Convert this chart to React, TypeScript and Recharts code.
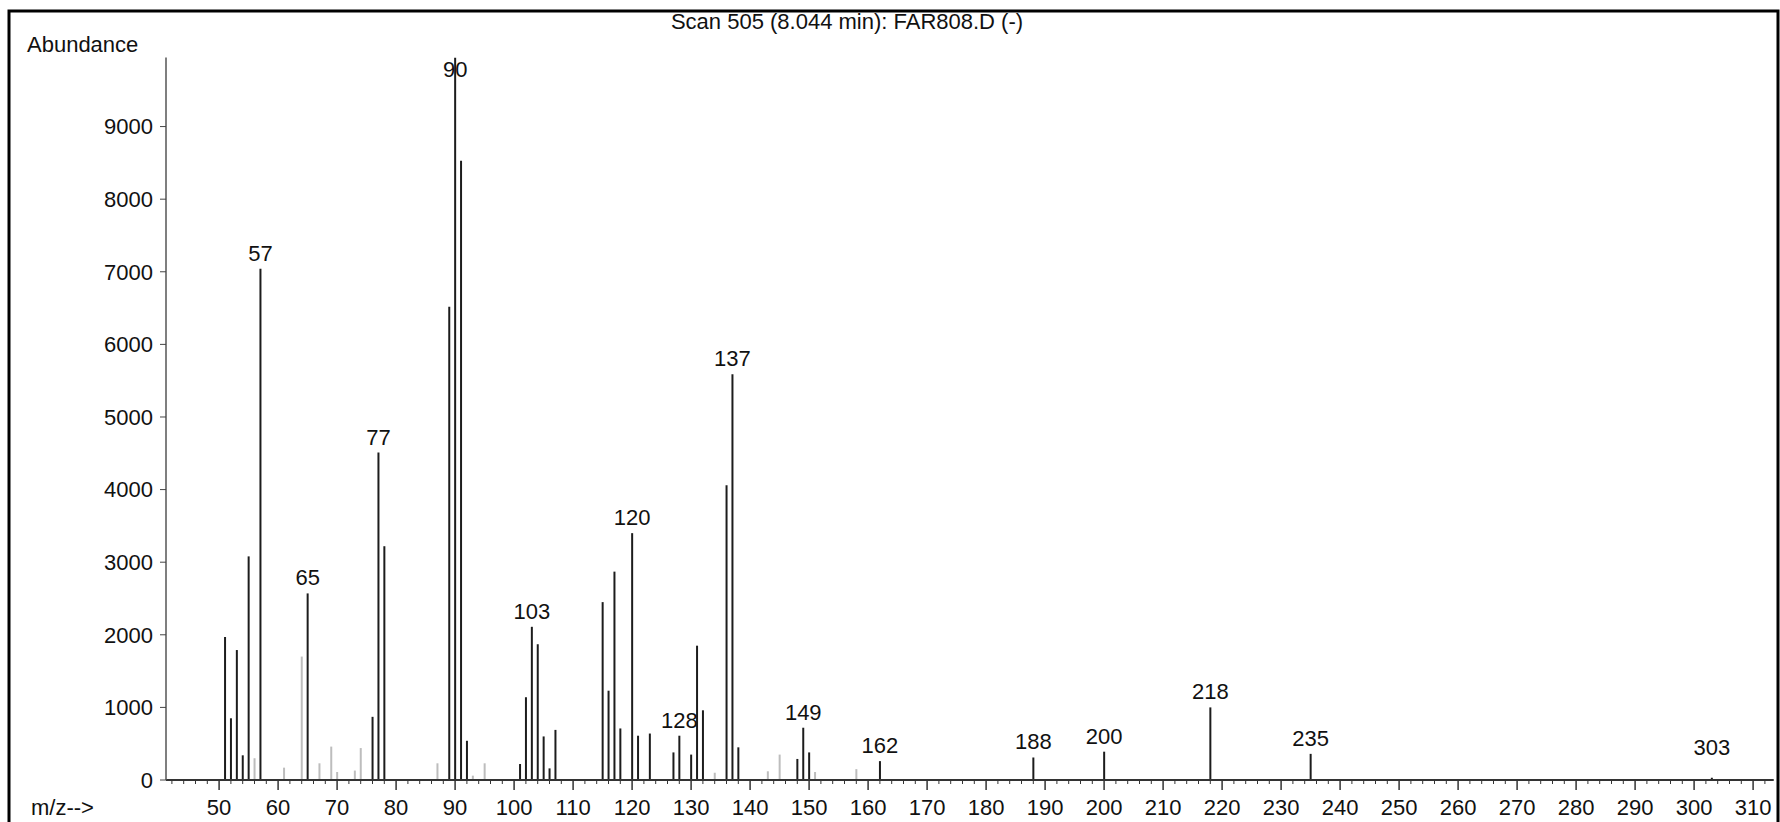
import React from 'react';
import { ComposedChart, Bar, XAxis, YAxis, LabelList } from 'recharts';

// Main (dark) peaks: m/z and abundance
const mzMain = [51, 52, 53, 54, 55, 57, 65, 76, 77, 78, 89, 90, 91, 92, 101, 102, 103, 104, 105, 106, 107, 115, 116, 117, 118, 120, 121, 123, 127, 128, 130, 131, 132, 136, 137, 138, 148, 149, 150, 162, 188, 200, 218, 235, 303];
const abundanceMain = [1970, 850, 1790, 340, 3080, 7040, 2570, 870, 4510, 3220, 6520, 9950, 8530, 540, 220, 1140, 2110, 1870, 600, 160, 690, 2450, 1230, 2870, 710, 3400, 610, 640, 380, 610, 350, 1850, 960, 4060, 5590, 450, 290, 720, 380, 260, 310, 390, 1000, 360, 30];

// Faint (light) peaks
const mzFaint = [56, 61, 64, 67, 69, 70, 73, 74, 87, 93, 95, 134, 143, 145, 151, 158];
const abundanceFaint = [300, 170, 1700, 230, 460, 110, 130, 440, 230, 60, 230, 100, 120, 350, 110, 150];

// Peaks carrying an m/z label
const labeledPeaks = [57, 65, 77, 90, 103, 120, 128, 137, 149, 162, 188, 200, 218, 235, 303];

// Axis ticks
const xMajorTicks = [50, 60, 70, 80, 90, 100, 110, 120, 130, 140, 150, 160, 170, 180, 190, 200, 210, 220, 230, 240, 250, 260, 270, 280, 290, 300, 310];
const yTicks = [0, 1000, 2000, 3000, 4000, 5000, 6000, 7000, 8000, 9000];

const title = 'Scan 505 (8.044 min): FAR808.D (-)';
const yTitle = 'Abundance';
const xTitle = 'm/z-->';

const FONT = '"Liberation Sans", Arial, Helvetica, sans-serif';
const W = 1780;
const H = 822;
const AXIS_Y = 780;
const PLOT_TOP = 57.6;

const xMinorTicks: number[] = [];
for (let v = 42; v <= 312; v += 2) xMinorTicks.push(v);
const xAllTicks = Array.from(new Set([...xMinorTicks, ...xMajorTicks])).sort((a, b) => a - b);

type Row = { mz: number; main: number; faint: number };
const rows: Row[] = [
  ...mzMain.map((mz, i) => ({ mz, main: abundanceMain[i], faint: 0 })),
  ...mzFaint.map((mz, i) => ({ mz, main: 0, faint: abundanceFaint[i] })),
].sort((a, b) => a.mz - b.mz);

const XTick = (props: any) => {
  const { x, y, payload } = props;
  const v = payload.value as number;
  const major = v % 10 === 0;
  return (
    <g>
      <line x1={x} x2={x} y1={y} y2={y + (major ? 10 : 4)} stroke="#333" strokeWidth={major ? 1.5 : 1} />
      {major && v >= 50 ? (
        <text x={x} y={y + 35} textAnchor="middle" fontSize={22} fontFamily={FONT} fill="#111">
          {v}
        </text>
      ) : null}
    </g>
  );
};

const PeakLabel = (props: any) => {
  const { x, y, width, value } = props;
  if (!labeledPeaks.includes(Number(value))) return null;
  const cx = Number(x) + Number(width) / 2;
  let base = Math.min(Number(y) - 8, AXIS_Y - 25);
  base = Math.max(base, PLOT_TOP + 19);
  return (
    <text x={cx} y={base} textAnchor="middle" fontSize={22} fontFamily={FONT} fill="#111">
      {value}
    </text>
  );
};

export default function App() {
  return (
    <div style={{ position: 'absolute', left: 0, top: 0, width: W, height: H, background: '#fff', overflow: 'hidden' }}>
      <ComposedChart
        width={W}
        height={H}
        data={rows}
        margin={{ top: PLOT_TOP, right: 6.25, bottom: 0, left: 0 }}
      >
        <XAxis
          dataKey="mz"
          type="number"
          domain={[41, 313.5]}
          allowDataOverflow
          ticks={xAllTicks}
          interval={0}
          tick={<XTick />}
          tickLine={false}
          tickSize={0}
          tickMargin={0}
          height={42}
          axisLine={{ stroke: '#333', strokeWidth: 2 }}
        />
        <YAxis
          type="number"
          domain={[0, 9950]}
          allowDataOverflow
          ticks={yTicks}
          interval={0}
          width={166}
          tickSize={6}
          tickMargin={7}
          tick={{ fill: '#111', fontSize: 22, fontFamily: FONT }}
          tickLine={{ stroke: '#444' }}
          axisLine={{ stroke: '#555', strokeWidth: 1.5 }}
        />
        <Bar dataKey="main" stackId="s" fill="#1c1c1c" barSize={2} isAnimationActive={false}>
          <LabelList dataKey="mz" content={<PeakLabel />} />
        </Bar>
        <Bar dataKey="faint" stackId="s" fill="#bdbdbd" barSize={2} isAnimationActive={false} />
      </ComposedChart>
      <svg width={W} height={H} style={{ position: 'absolute', left: 0, top: 0, pointerEvents: 'none' }}>
        <path d={`M9 ${H} L9 11 L1778 11 L1778 ${H}`} fill="none" stroke="#000" strokeWidth={3} />
        <text x={847} y={29} textAnchor="middle" fontSize={22} fontFamily={FONT} fill="#111">
          {title}
        </text>
        <text x={27} y={51.5} fontSize={22} fontFamily={FONT} fill="#111">
          {yTitle}
        </text>
        <text x={31} y={815} fontSize={22} fontFamily={FONT} fill="#111">
          {xTitle}
        </text>
      </svg>
    </div>
  );
}
